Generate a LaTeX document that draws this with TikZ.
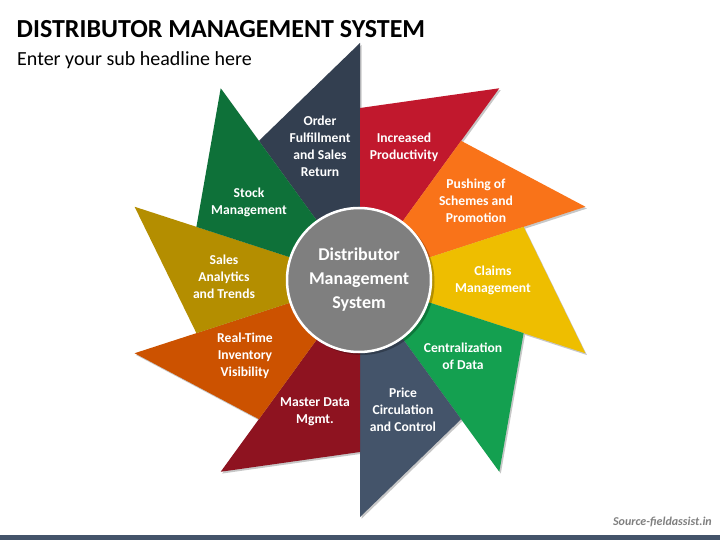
\documentclass[tikz,border=0pt]{standalone}
\usepackage{fontspec}
\setmainfont{Carlito}
\usetikzlibrary{calc}
\definecolor{cNavy}{HTML}{333F50}
\definecolor{cRed}{HTML}{C1182D}
\definecolor{cOrange}{HTML}{F97319}
\definecolor{cYellow}{HTML}{EEBE00}
\definecolor{cGreen}{HTML}{14A050}
\definecolor{cSlate}{HTML}{44546A}
\definecolor{cDarkRed}{HTML}{8E1320}
\definecolor{cRust}{HTML}{CC5200}
\definecolor{cGold}{HTML}{B48E00}
\definecolor{cDkGreen}{HTML}{0E7139}
\definecolor{cHub}{HTML}{7F7F7F}
\begin{document}
\begin{tikzpicture}[x=1pt,y=-1pt,
  bladelabel/.style={text=white, font=\bfseries\fontsize{13.6}{17}\selectfont, align=center, inner sep=0pt},
  bladeshadow/.style={fill=black, opacity=0.22},
  hubstyle/.style={circle, minimum size=144pt, inner sep=0pt, fill=cHub, draw=white, line width=2.5pt,
     text=white, font=\bfseries\fontsize{18}{24}\selectfont, align=center}]
\useasboundingbox (0,0) rectangle (720,540);
\fill[white] (0,0) rectangle (720,540);
\coordinate (C) at (360,280);
% shadows
\foreach \a in {90,54,18,-18,-54,-90,-126,-162,162,126}{
  \fill[bladeshadow] ($(C)+(1.5pt,-1.8pt)$) -- ($(C)+(1.5pt,-1.8pt)+(\a:237pt)$) -- ($(C)+(1.5pt,-1.8pt)+(\a+36:172pt)$) -- cycle;
}
% blades
\foreach \a/\col in {90/cNavy,54/cRed,18/cOrange,-18/cYellow,-54/cGreen,-90/cSlate,-126/cDarkRed,-162/cRust,162/cGold,126/cDkGreen}{
  \coordinate (tip) at ($(C)+(\a:237pt)$);
  \coordinate (corner) at ($(C)+(\a+36:172pt)$);
  \fill[\col] (C) -- (tip) -- (corner) -- cycle;
}
% hub
\fill[black, opacity=0.25] ($(C)+(1.5pt,-2pt)$) circle (73pt);
\node[hubstyle] (hub) at (359,280) {Distributor\\Management\\System};
% labels
\node[bladelabel] (l1) at (320,146) {Order\\Fulfillment\\and Sales\\Return};
\node[bladelabel] (l2) at (404,147.5) {Increased\\Productivity};
\node[bladelabel] (l3) at (476,201) {Pushing of\\Schemes and\\Promotion};
\node[bladelabel] (l4) at (493,280.5) {Claims\\Management};
\node[bladelabel] (l5) at (463,356.5) {Centralization\\of Data};
\node[bladelabel] (l6) at (403,410) {Price\\Circulation\\and Control};
\node[bladelabel] (l7) at (315,411.5) {Master Data\\Mgmt.};
\node[bladelabel] (l8) at (245,356) {Real-Time\\Inventory\\Visibility};
\node[bladelabel] (l9) at (224,277) {Sales\\Analytics\\and Trends};
\node[bladelabel] (l10) at (249,202.5) {Stock\\Management};
% titles
\node[anchor=base west, inner sep=0pt, font=\bfseries\fontsize{26}{30}\selectfont] (title) at (16.5,37.3) {DISTRIBUTOR MANAGEMENT SYSTEM};
\node[anchor=base west, inner sep=0pt, font=\fontsize{20}{24}\selectfont] (subtitle) at (17,65.7) {Enter your sub headline here};
\node[anchor=base east, inner sep=0pt, text=cHub, font=\bfseries\itshape\fontsize{12}{14}\selectfont] (source) at (712,525.7) {Source-fieldassist.in};
\fill[cSlate] (0,535) rectangle (720,540);
\end{tikzpicture}
\end{document}
